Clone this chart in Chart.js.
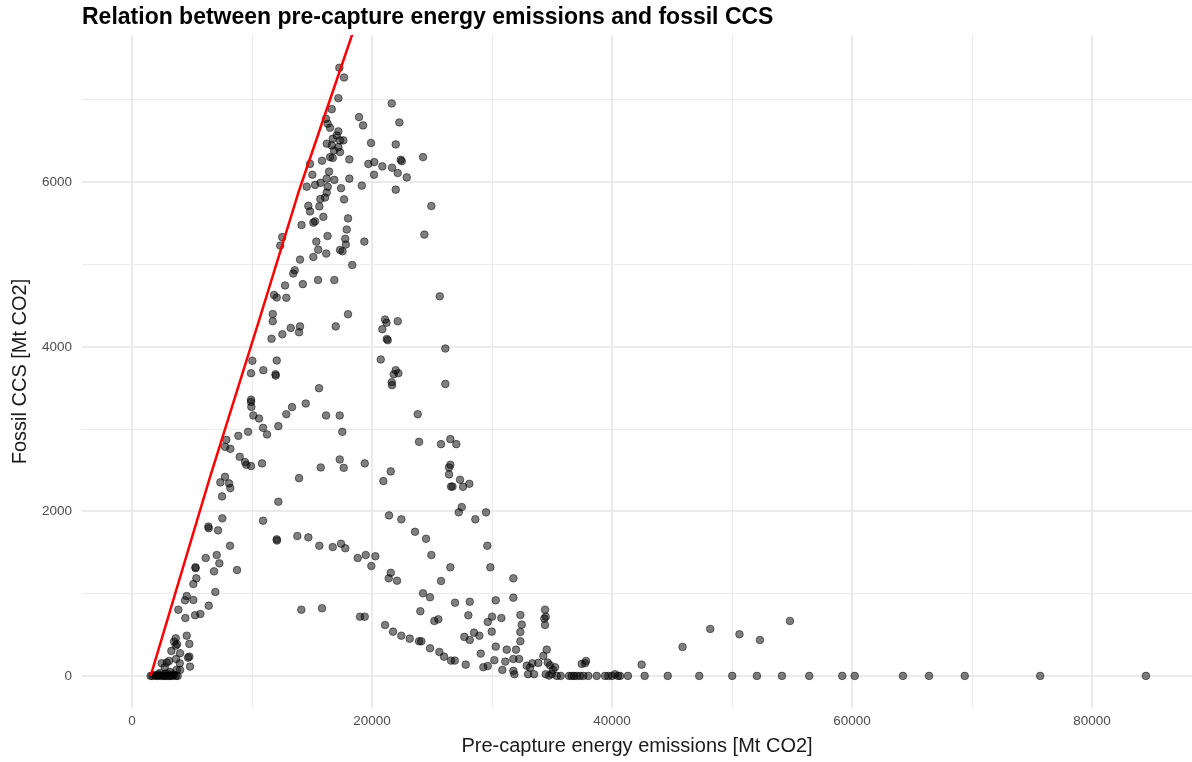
<!DOCTYPE html>
<html>
<head>
<meta charset="utf-8">
<title>Pre-capture energy emissions vs fossil CCS</title>
<script src="https://cdn.jsdelivr.net/npm/chart.js@4/dist/chart.umd.min.js"></script>
<style>
  html, body { margin: 0; padding: 0; background: #ffffff; }
  #wrap { width: 1192px; height: 762px; }
</style>
</head>
<body>
<div id="wrap"><canvas id="chart" width="1192" height="762"></canvas></div>
<script>
// Scenario results: pre-capture energy emissions (x) and fossil CCS (y), both in Mt CO2
const emissions = [
  17275, 17667, 17192, 16642, 21642, 18917, 19250, 22275, 16167, 16308,
  16500, 17192, 17058, 16725, 17333, 17608, 16225, 16642, 17192, 16833,
  17333, 16500, 16725, 19917, 21975, 18108, 15833, 14833, 19692, 20183,
  20858, 21667, 22142, 20167, 22392, 22475, 24250, 15025, 16417, 16225,
  16858, 15708, 15250, 14558, 18108, 19150, 16308, 17417, 21975, 22892,
  16225, 16083, 15692, 17667, 14692, 14833, 15608, 15942, 18000, 15108,
  15250, 14125, 17892, 16292, 17767, 17817, 15358, 19358, 12517, 12350,
  15517, 15108, 16183, 17333, 17542, 14000, 18350, 13558, 13433, 12750,
  14233, 15500, 16858, 11833, 12058, 12858, 11725, 11725, 18000, 13225,
  14000, 13917, 12525, 11625, 16975, 21083, 21208, 22142, 20858, 21225,
  21308, 25642, 26108, 24358, 24942, 10025, 12058, 9917, 10942, 11958,
  11975, 20725, 21975, 21808, 22192, 21642, 21667, 26108, 15583, 9917,
  9917, 9942, 14475, 13333, 12858, 10108, 10583, 16167, 17308, 23808,
  10917, 11250, 12192, 17525, 9667, 8858, 7858, 7750, 8192, 8975,
  9417, 9525, 9917, 10833, 17308, 17642, 15725, 19392, 21558, 7750,
  13917, 7358, 8083, 8192, 7500, 12192, 20942, 7525, 6358, 6392,
  7167, 10917, 12058, 12075, 13775, 14692, 15608, 16725, 17417, 17775,
  18808, 19475, 20275, 19942, 21417, 8167, 6142, 7058, 7275, 5280,
  5300, 6833, 8750, 5358, 5108, 6942, 4558, 4417, 5108, 6392,
  3858, 5692, 5250, 4442, 14108, 15833, 19000, 19392, 21558, 21392,
  22083, 21083, 21750, 22442, 23142, 23917, 24108, 4558, 3642, 3500,
  3750, 3642, 4775, 3275, 4000, 4775, 4667, 3667, 3083, 2475,
  2892, 3975, 4833, 2725, 4000, 3725, 2333, 3167, 2750, 1550,
  1700, 1850, 2000, 2150, 2300, 2450, 2600, 2750, 2900, 3050,
  3200, 3350, 3500, 3650, 3800, 2200, 2900, 3400,
  23917, 25750, 26525, 27025, 26525, 26417, 26417, 27333, 28108, 27583,
  26583, 26708, 27475, 27225, 29500, 28608, 22442, 23583, 24500, 29608,
  24942, 26525, 29858, 31775, 25750, 31775, 24250, 24833, 30308, 26917,
  28142, 24025, 28025, 30000, 29642, 30775, 25192, 25525, 32358, 32475,
  32358, 32358, 34417, 34475, 34358, 34417, 29975, 27692, 28142, 28500,
  28942, 24833, 25608, 26000, 26583, 26892, 27808, 30308, 31225, 32000,
  29058, 30192, 31108, 31775, 32250, 29275, 29642, 30858, 31775, 31858,
  32892, 33167, 33358, 33858, 34275, 34558, 34642, 34833, 35058, 35250,
  33000, 33500, 34475, 34750, 34975, 37475, 37833, 37750,
  35400, 35725, 36417, 36642, 36833, 37058, 37333, 37608, 38025, 38725,
  39417, 39692, 40000, 40250, 40500, 40667, 41325, 42717, 44642, 47267,
  50017, 52075, 54158, 56433, 59183, 60225, 64242, 66417, 69392, 75675,
  84492,
  42467, 45875, 48183, 50617, 52325, 54825
];
const fossilCCS = [
  7392, 7274, 7022, 6889, 6958, 6792, 6691, 6727, 6772, 6711,
  6663, 6618, 6569, 6529, 6509, 6509, 6469, 6448, 6427, 6387,
  6367, 6306, 6296, 6478, 6460, 6278, 6262, 6223, 6223, 6245,
  6193, 6177, 6112, 6092, 6274, 6257, 6306, 6092, 6129, 6044,
  6029, 5993, 5968, 5946, 6044, 5959, 5946, 5928, 5910, 6059,
  5875, 5814, 5796, 5792, 5713, 5646, 5707, 5580, 5561, 5509,
  5525, 5480, 5426, 5347, 5313, 5243, 5279, 5279, 5333, 5231,
  5181, 5092, 5133, 5177, 5161, 5060, 4994, 4930, 4891, 4746,
  4762, 4812, 4811, 4630, 4599, 4596, 4398, 4311, 4396, 4229,
  4248, 4177, 4153, 4098, 4248, 4331, 4293, 4311, 4214, 4095,
  4080, 4614, 3979, 5364, 5711, 3831, 3834, 3679, 3716, 3667,
  3650, 3846, 3716, 3667, 3679, 3570, 3534, 3549, 3497, 3357,
  3330, 3270, 3311, 3267, 3181, 3166, 3129, 3166, 3166, 3181,
  3015, 2935, 3036, 2967, 2967, 2918, 2869, 2784, 2760, 2663,
  2599, 2566, 2550, 2583, 2631, 2529, 2534, 2583, 2486, 2420,
  2404, 2352, 2340, 2283, 2182, 2117, 2368, 1915, 1815, 1795,
  1769, 1886, 1660, 1645, 1700, 1684, 1582, 1566, 1607, 1551,
  1433, 1469, 1454, 1336, 1951, 1582, 1433, 1469, 1368, 1320,
  1310, 1271, 1287, 1186, 1117, 1020, 971, 919, 923, 854,
  805, 753, 737, 704, 805, 822, 720, 720, 1254, 1186,
  1157, 619, 538, 489, 453, 421, 421, 489, 458, 417,
  385, 368, 389, 304, 276, 234, 222, 206, 182, 154,
  162, 154, 113, 106, 73, 73, 36, 49, 24, 0,
  0, 10, 0, 0, 5, 0, 0, 0, 0, 0,
  0, 0, 10, 0, 0, 20, 30, 20,
  2845, 2817, 2878, 2817, 2566, 2534, 2449, 2384, 2335, 2299,
  2301, 2301, 2052, 1988, 1988, 1903, 1903, 1752, 1667, 1582,
  1469, 1320, 1320, 1186, 1154, 951, 1004, 956, 919, 890,
  902, 786, 737, 720, 656, 704, 668, 688, 741, 623,
  534, 421, 805, 720, 696, 619, 538, 474, 437, 526,
  489, 336, 291, 234, 186, 186, 137, 356, 319, 319,
  271, 191, 174, 206, 206, 106, 121, 73, 61, 21,
  125, 101, 154, 158, 243, 319, 162, 130, 73, 106,
  21, 21, 21, 4, 24, 146, 182, 154,
  0, 0, 0, 0, 0, 0, 0, 0, 0, 0,
  0, 0, 0, 20, 0, 0, 0, 0, 0, 0,
  0, 0, 0, 0, 0, 0, 0, 0, 0, 0,
  0,
  137, 352, 571, 506, 437, 668
];

// Upper envelope of fossil CCS against pre-capture emissions
const frontierX = [1550, 6420, 10670, 13920, 17610, 18700];
const frontierY = [0, 2380, 4360, 5900, 7480, 7947];

// Axis ranges, grid positions and labelled ticks
const xRange = [-4170, 88330];
const yRange = [-390, 7790];
const xGridValues = [0, 10000, 20000, 30000, 40000, 50000, 60000, 70000, 80000];
const xLabelValues = [0, 20000, 40000, 60000, 80000];
const yGridValues = [0, 1000, 2000, 3000, 4000, 5000, 6000, 7000];
const yLabelValues = [0, 2000, 4000, 6000];

const FONT = '"Liberation Sans", Arial, Helvetica, sans-serif';

const scatterPoints = emissions.map((x, i) => ({ x: x, y: fossilCCS[i] }));
const frontierPoints = frontierX.map((x, i) => ({ x: x, y: frontierY[i] }));

// Plot title, left-aligned with the panel
const panelTitle = {
  id: 'panelTitle',
  afterDraw(chart, args, opts) {
    const { ctx, chartArea } = chart;
    ctx.save();
    ctx.font = opts.font;
    ctx.fillStyle = opts.color;
    ctx.textAlign = 'left';
    ctx.textBaseline = 'alphabetic';
    ctx.fillText(opts.text, chartArea.left, opts.baseline);
    ctx.restore();
  }
};

function axisOptions(range, gridValues, labelValues, fit, padding, titleText, titlePadding) {
  return {
    type: 'linear',
    min: range[0],
    max: range[1],
    afterFit: fit,
    afterBuildTicks(scale) { scale.ticks = gridValues.map((v) => ({ value: v })); },
    border: { display: false },
    grid: {
      color: '#ebebeb',
      lineWidth: (c) => (c.tick && labelValues.includes(c.tick.value)) ? 2 : 1,
      drawTicks: false
    },
    ticks: {
      autoSkip: false,
      maxRotation: 0,
      padding: padding,
      color: '#4d4d4d',
      font: { family: FONT, size: 13.5 },
      callback: (v) => labelValues.includes(v) ? String(v) : ''
    },
    title: {
      display: true,
      text: titleText,
      color: '#1a1a1a',
      font: { family: FONT, size: 20 },
      padding: titlePadding
    }
  };
}

new Chart(document.getElementById('chart'), {
  type: 'scatter',
  data: {
    datasets: [
      {
        label: 'Frontier',
        data: frontierPoints,
        showLine: true,
        borderColor: '#ff0000',
        borderWidth: 2.5,
        pointRadius: 0,
        tension: 0,
        fill: false,
        order: 0
      },
      {
        label: 'Scenarios',
        data: scatterPoints,
        backgroundColor: 'rgba(0,0,0,0.5)',
        borderColor: 'rgba(0,0,0,0.5)',
        borderWidth: 1,
        pointRadius: 3.8,
        order: 1
      }
    ]
  },
  options: {
    responsive: false,
    devicePixelRatio: 1,
    animation: false,
    events: [],
    layout: { autoPadding: false, padding: { top: 35, left: 0, right: 0, bottom: 0 } },
    plugins: {
      legend: { display: false },
      tooltip: { enabled: false },
      title: { display: false },
      panelTitle: {
        text: 'Relation between pre-capture energy emissions and fossil CCS',
        font: 'bold 23px ' + FONT,
        color: '#000000',
        baseline: 24
      }
    },
    scales: {
      x: Object.assign(
        axisOptions(xRange, xGridValues, xLabelValues,
          (scale) => { scale.height = 54; }, 5,
          'Pre-capture energy emissions [Mt CO2]', { top: 0, bottom: 4 }),
        { position: 'bottom' }),
      y: Object.assign(
        axisOptions(yRange, yGridValues, yLabelValues,
          (scale) => { scale.width = 82; }, 10,
          'Fossil CCS [Mt CO2]', { top: 8, bottom: 0 }),
        { position: 'left' })
    }
  },
  plugins: [panelTitle]
});
</script>
</body>
</html>
